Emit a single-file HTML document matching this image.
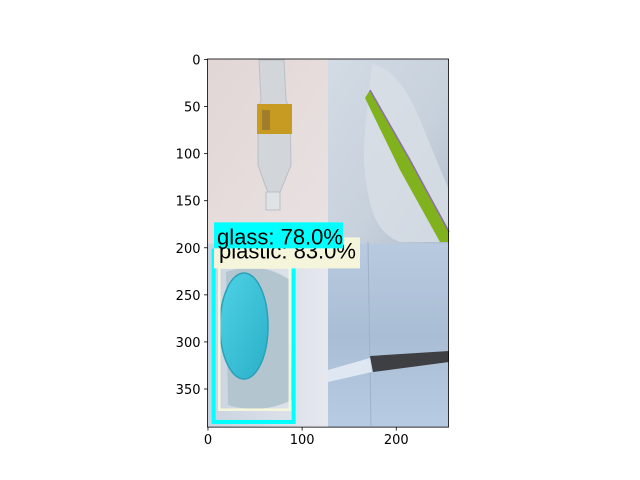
<!DOCTYPE html>
<html><head><meta charset="utf-8"><style>
html,body{margin:0;padding:0;background:#fff;}
svg{display:block;font-family:"DejaVu Sans","Liberation Sans",sans-serif;}
</style></head><body>
<svg id="chart" width="640" height="480" viewBox="0 0 640 480" xmlns="http://www.w3.org/2000/svg">
<defs>
<linearGradient id="q1" x1="0" y1="0" x2="1" y2="1"><stop offset="0" stop-color="#e2d6d6"/><stop offset="1" stop-color="#e9e2e2"/></linearGradient>
<linearGradient id="q2" x1="0" y1="0" x2="1" y2="1"><stop offset="0" stop-color="#d3dbe4"/><stop offset="0.6" stop-color="#c7d1dc"/><stop offset="1" stop-color="#aebccb"/></linearGradient>
<linearGradient id="q3" x1="0" y1="0" x2="1" y2="0"><stop offset="0" stop-color="#c9d3e0"/><stop offset="1" stop-color="#e6e8ee"/></linearGradient>
<linearGradient id="q4" x1="0" y1="0" x2="0" y2="1"><stop offset="0" stop-color="#b8cae0"/><stop offset="0.5" stop-color="#a9bdd4"/><stop offset="1" stop-color="#b7cbe2"/></linearGradient>
<linearGradient id="cap" x1="0" y1="0" x2="1" y2="1"><stop offset="0" stop-color="#4fd2e6"/><stop offset="1" stop-color="#2ab0c8"/></linearGradient>
</defs>
<g id="image-layer"></g>
<g id="boxes"></g>
<g id="axes"></g>
</svg>
<script>
const xTicks = [0, 100, 200];
const yTicks = [0, 50, 100, 150, 200, 250, 300, 350];
const imgW = [256];
const imgH = [391];
const detLabels = ["plastic: 83.0%", "glass: 78.0%"];
const detBoxes = [[12, 221, 87, 372], [6, 203, 91, 385]]; // x0,y0,x1,y1 in data coords
const labelTops = [189, 173];

const X0 = 207.5, Y0 = 59, S = 0.9415;
const sx = v => X0 + (v + 0.5) * S;
const sy = v => Y0 + (v + 0.5) * S;
const NS = "http://www.w3.org/2000/svg";
function mk(tag, attrs, parent) { const e = document.createElementNS(NS, tag); for (const k in attrs) e.setAttribute(k, attrs[k]); parent.appendChild(e); return e; }

const W = imgW[0], H = imgH[0];
const L = sx(-0.5), R = sx(W - 0.5), T = sy(-0.5), B = sy(H - 0.5);
const MX = sx(127.5), MY = sy(195.5);
const img = document.getElementById('image-layer');
let q;
q = mk('rect', {x: L, y: T, width: MX - L, height: MY - T, fill: 'url(#q1)'}, img);


q = mk('rect', {x: MX, y: T, width: R - MX, height: MY - T, fill: 'url(#q2)'}, img);


q = mk('rect', {x: L, y: MY, width: MX - L, height: B - MY, fill: 'url(#q3)'}, img);


q = mk('rect', {x: MX, y: MY, width: R - MX, height: B - MY, fill: 'url(#q4)'}, img);


// bottle
mk('path', {d: 'M259 60 L284 60 L286 100 L290 110 L291 165 L283 185 L280 192 L268 192 L265 185 L258 165 L258 110 L261 100 Z', fill: '#d2d6da', stroke: '#b9bfc6', 'stroke-width': 1}, img);
mk('rect', {x: 257, y: 104, width: 35, height: 30, fill: '#c79a22'}, img);
mk('rect', {x: 262, y: 110, width: 8, height: 20, fill: '#a07d2a'}, img);
mk('rect', {x: 266, y: 192, width: 14, height: 18, fill: '#dfe3e6', stroke: '#b8c0c6'}, img);
// bag
mk('path', {d: 'M372 64 Q400 70 420 120 L449 190 L449 242 L400 242 Q380 235 372 210 Q360 170 366 120 Z', fill: '#d8dfe6', opacity: 0.8}, img);
mk('path', {d: 'M365 98 L370 90 L410 160 L449 230 L449 242 L440 242 L400 170 Z', fill: '#7fb21c'}, img);
mk('path', {d: 'M370 90 L410 160 L449 232', stroke: '#8c6fa8', 'stroke-width': 1.5, fill: 'none'}, img);
// cap photo
mk('path', {d: 'M226 272 Q260 260 290 280 L292 400 Q260 415 228 405 Z', fill: '#b3c5cf'}, img);
mk('ellipse', {cx: 244, cy: 326, rx: 24, ry: 53, fill: 'url(#cap)', stroke: '#2ba0b8', 'stroke-width': 1.5}, img);
// cardboard
mk('line', {x1: 368, y1: 242, x2: 371, y2: 426, stroke: '#9eb1c8', 'stroke-width': 1}, img);
mk('path', {d: 'M328 370 L370 358 L372 372 L328 382 Z', fill: '#dfe8f2'}, img);
mk('path', {d: 'M370 356 L449 351 L449 362 L373 372 Z', fill: '#3d3f42'}, img);

// detections
const bx = document.getElementById('boxes');
const boxStyles = [{stroke: '#f5f5dc', w: 2.6, bg: '#f5f5dc'}, {stroke: '#00ffff', w: 4, bg: '#00ffff'}];
detBoxes.forEach((b, i) => {
  const st = boxStyles[i];
  const r = mk('rect', {x: sx(b[0]), y: sy(b[1]), width: sx(b[2]) - sx(b[0]), height: sy(b[3]) - sy(b[1]), fill: 'none', stroke: st.stroke, 'stroke-width': st.w}, bx);
  
  
});
const lw = [146, 129];
const lh = [31, 26];
const txOff = [[0, 21], [2, 22]];
detLabels.forEach((t, i) => {
  const b = detBoxes[i];
  const x0 = i === 0 ? 214 : 214;
  const bg = mk('rect', {x: x0, y: sy(labelTops[i]), width: lw[i], height: lh[i], fill: boxStyles[i].bg}, bx);
  
  
  const tx = mk('text', {x: x0 + 5 + txOff[i][0] - (i === 1 ? 4 : 0), y: sy(labelTops[i]) + txOff[i][1], 'font-size': 22, fill: '#000', 'font-family': '"Liberation Sans", sans-serif'}, bx);
  tx.textContent = t;
  
  
});

// axes
const ax = document.getElementById('axes');
const fr = mk('rect', {x: L, y: T, width: R - L, height: B - T, fill: 'none', stroke: '#000', 'stroke-width': 0.8}, ax);


xTicks.forEach(v => {
  const x = sx(v);
  const tk = mk('line', {x1: x, y1: B, x2: x, y2: B + 3.5, stroke: '#000', 'stroke-width': 0.8}, ax);
  
  
  const lb = mk('text', {x: x, y: B + 17, 'font-size': 13, 'text-anchor': 'middle', fill: '#000'}, ax);
  lb.textContent = v;
  
  
});
yTicks.forEach(v => {
  const y = sy(v);
  const tk = mk('line', {x1: L - 3.5, y1: y, x2: L, y2: y, stroke: '#000', 'stroke-width': 0.8}, ax);
  
  
  const lb = mk('text', {x: L - 7, y: y + 5, 'font-size': 13, 'text-anchor': 'end', fill: '#000'}, ax);
  lb.textContent = v;
  
  
});
</script>
</body></html>
